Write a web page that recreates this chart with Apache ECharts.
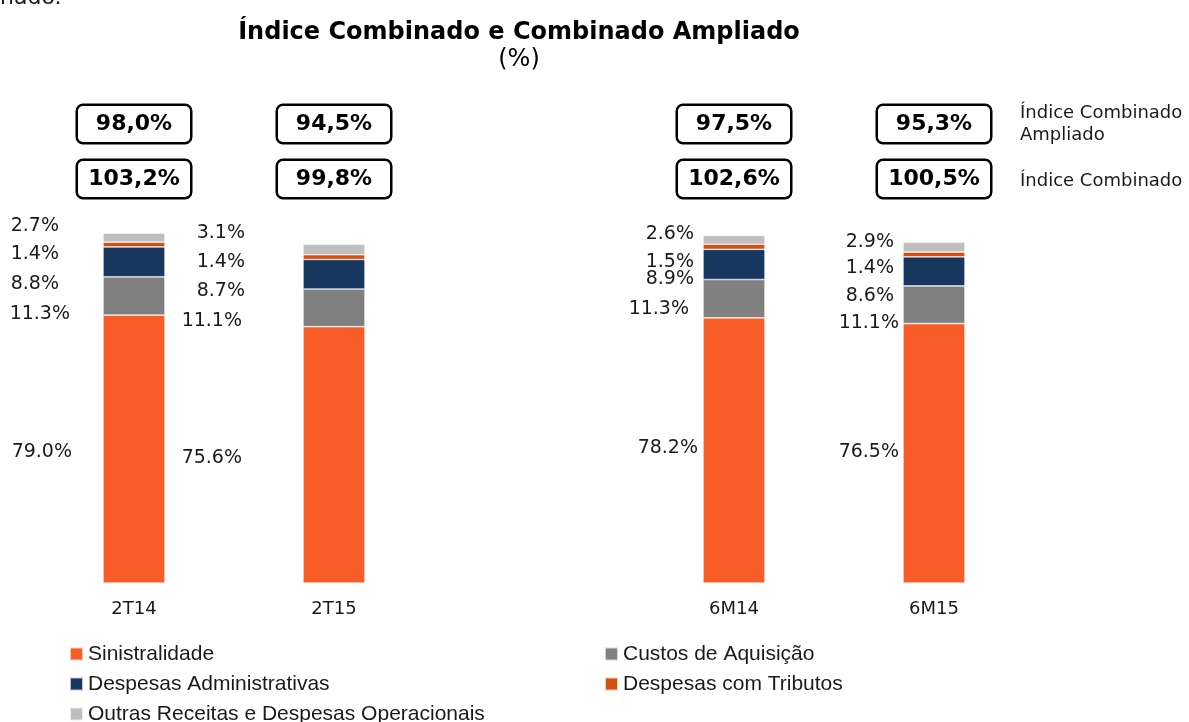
<!DOCTYPE html>
<html>
<head>
<meta charset="utf-8">
<script src="https://cdn.jsdelivr.net/npm/echarts@6/dist/echarts.min.js"></script>
<style>
  html, body { margin: 0; padding: 0; background: #fff; }
  #main { width: 1189px; height: 722px; }
</style>
</head>
<body>
<div id="main"></div>
<script>
// dados (categoria vazia = espaço entre os grupos)
var categorias = ['2T14', '2T15', '', '6M14', '6M15'];
var sinistralidade = [79.0, 75.6, null, 78.2, 76.5];
var custosAquisicao = [11.3, 11.1, null, 11.3, 11.1];
var despAdministrativas = [8.8, 8.7, null, 8.9, 8.6];
var despTributos = [1.4, 1.4, null, 1.5, 1.4];
var outrasReceitas = [2.7, 3.1, null, 2.6, 2.9];
var indiceCombinado = [103.2, 99.8, null, 102.6, 100.5];
var indiceAmpliado = [98.0, 94.5, null, 97.5, 95.3];

var nomes = ['Sinistralidade', 'Custos de Aquisição', 'Despesas Administrativas',
             'Despesas com Tributos', 'Outras Receitas e Despesas Operacionais'];
var valores = [sinistralidade, custosAquisicao, despAdministrativas, despTributos, outrasReceitas];
var cores = ['#F95D27', '#808080', '#17375E', '#D34F12', '#BFBFBF'];

// ajustes manuais dos rótulos (distância à esquerda da barra, deslocamento vertical)
var distRotulo = [
  [31, 61, 0, 5, 4],
  [33, 61, 0, 14, 4],
  [44, 58, 0, 9, 9],
  [44, 58, 0, 9, 9],
  [44, 58, 0, 9, 9]
];
var dyRotulo = [
  [3, 3, 0, -2, -1],
  [18, 13, 0, 10, 18],
  [22, 17, 0, 15, 25],
  [9, 5, 0, 15, 14],
  [-12, -16, 0, -6, -5]
];

var fonte = 'DejaVu Sans';

function pct(v) {
  return v.toFixed(1).replace('.', ',') + '%';
}

var series = valores.map(function (arr, s) {
  return {
    name: nomes[s],
    type: 'bar',
    stack: 'total',
    barWidth: 62,
    itemStyle: { color: cores[s], borderColor: 'rgba(255,255,255,0.7)', borderWidth: 0.7 },
    data: arr.map(function (v, i) {
      if (v === null) return null;
      return {
        value: v,
        label: {
          show: true,
          position: 'left',
          distance: distRotulo[s][i],
          offset: [0, dyRotulo[s][i]],
          formatter: v.toFixed(1) + '%',
          fontFamily: fonte,
          fontSize: 19,
          color: '#1a1a1a'
        }
      };
    })
  };
});

var caixa = {
  fontFamily: fonte,
  fontSize: 22,
  fontWeight: 'bold',
  color: '#000',
  width: 112,
  height: 36,
  lineHeight: 36,
  align: 'center',
  backgroundColor: '#fff',
  borderColor: '#000',
  borderWidth: 2.5,
  borderRadius: 5
};

function eixoCaixa(lista, offset) {
  return {
    type: 'category',
    position: 'top',
    offset: offset,
    data: categorias,
    axisLine: { show: false },
    axisTick: { show: false },
    axisLabel: {
      interval: 0,
      margin: 13,
      formatter: function (val, idx) {
        return lista[idx] === null ? '' : '{b|' + pct(lista[idx]) + '}';
      },
      rich: { b: caixa }
    }
  };
}

var myChart = echarts.init(document.getElementById('main'));
var option = {
  backgroundColor: '#fff',
  animation: false,
  title: {
    text: 'Índice Combinado e Combinado Ampliado',
    subtext: '(%)',
    left: 514,
    textAlign: 'center',
    top: 16,
    itemGap: 3,
    textStyle: { fontFamily: fonte, fontSize: 24, fontWeight: 'bold', color: '#000' },
    subtextStyle: { fontFamily: fonte, fontSize: 24, color: '#000' }
  },
  grid: { left: 34, right: 155, top: 210, bottom: 139 },
  legend: {
    left: 69,
    top: 639,
    padding: 0,
    width: 1100,
    icon: 'rect',
    itemWidth: 13,
    itemHeight: 13,
    itemGap: 0,
    data: nomes,
    textStyle: { fontFamily: 'Liberation Sans', fontSize: 21, color: '#1a1a1a', width: 516, lineHeight: 30 }
  },
  xAxis: [
    {
      type: 'category',
      data: categorias,
      axisLine: { show: false },
      axisTick: { show: false },
      axisLabel: { interval: 0, margin: 17, fontFamily: fonte, fontSize: 18, color: '#1a1a1a' }
    },
    eixoCaixa(indiceCombinado, 0),
    eixoCaixa(indiceAmpliado, 55)
  ],
  yAxis: {
    type: 'value',
    min: 0,
    max: 110,
    show: false,
    splitLine: { show: false }
  },
  graphic: [
    {
      type: 'text',
      left: 0,
      top: -13,
      style: { text: 'nado.', font: '22px DejaVu Sans', fill: '#1a1a1a' }
    },
    {
      type: 'text',
      x: 1020,
      y: 102,
      style: { text: 'Índice Combinado\nAmpliado', font: '18px DejaVu Sans', lineHeight: 22, fill: '#1a1a1a', verticalAlign: 'top' }
    },
    {
      type: 'text',
      x: 1020,
      y: 170,
      style: { text: 'Índice Combinado', font: '18px DejaVu Sans', lineHeight: 22, fill: '#1a1a1a', verticalAlign: 'top' }
    }
  ],
  series: series
};
myChart.setOption(option);
</script>
</body>
</html>
